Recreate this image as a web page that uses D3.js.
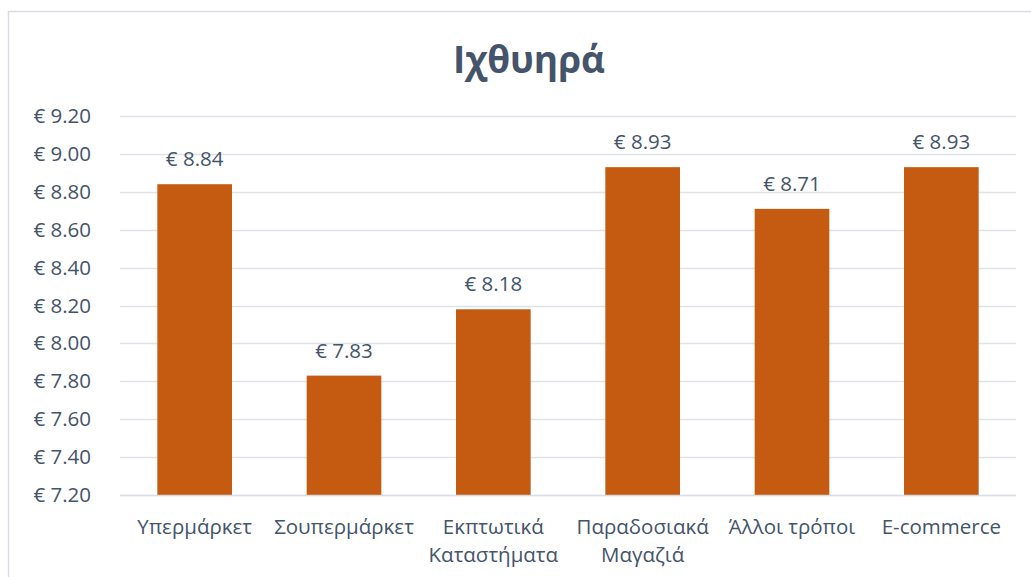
<!DOCTYPE html>
<html>
<head>
<meta charset="utf-8">
<script src="https://cdn.jsdelivr.net/npm/d3@7/dist/d3.min.js"></script>
<style>
  html, body { margin: 0; padding: 0; background: #ffffff; }
  svg { display: block; }
  text { font-family: "Open Sans", "Noto Sans", sans-serif; fill: #44546A; }
</style>
</head>
<body>
<script>
const title = "Ιχθυηρά";
const categories = ["Υπερμάρκετ", "Σουπερμάρκετ", "Εκπτωτικά\nΚαταστήματα", "Παραδοσιακά\nΜαγαζιά", "Άλλοι τρόποι", "E-commerce"];
const values = [8.84, 7.83, 8.18, 8.93, 8.71, 8.93];
const yTicks = [7.20, 7.40, 7.60, 7.80, 8.00, 8.20, 8.40, 8.60, 8.80, 9.00, 9.20];
const yDomain = [7.20, 9.20];

const W = 1031, H = 577;
const margin = { left: 120, right: 15, top: 116, bottom: 82 };
const fs = 20.5;

const svg = d3.select("body").append("svg").attr("width", W).attr("height", H);

// chart frame (partially cropped on right/bottom)
svg.append("rect")
  .attr("x", 8.5).attr("y", 11.5)
  .attr("width", W + 20).attr("height", H + 20)
  .attr("fill", "#ffffff")
  .attr("stroke", "#D9DDE3").attr("stroke-width", 1.5);

const x = d3.scaleBand().domain(categories)
  .range([margin.left, W - margin.right]).paddingInner(0.5).paddingOuter(0.25);
const y = d3.scaleLinear().domain(yDomain).range([H - margin.bottom, margin.top]);

// gridlines
svg.append("g").selectAll("line").data(yTicks).join("line")
  .attr("x1", margin.left).attr("x2", W - margin.right)
  .attr("y1", d => Math.round(y(d)) + 0.5).attr("y2", d => Math.round(y(d)) + 0.5)
  .attr("stroke", "#DFE3E8").attr("stroke-width", 1.5);

// y axis labels
const yAxis = d3.axisLeft(y).tickValues(yTicks).tickSize(0).tickPadding(0)
  .tickFormat(d => "€ " + d3.format(".2f")(d));
const gy = svg.append("g").attr("transform", `translate(91,0)`).call(yAxis);
gy.select(".domain").remove();
gy.selectAll("text").attr("font-size", fs).attr("fill", "#44546A")
  .style("font-family", '"Open Sans", "Noto Sans", sans-serif');

// bars
svg.append("g").selectAll("rect").data(values).join("rect")
  .attr("x", (d, i) => x(categories[i]))
  .attr("width", x.bandwidth())
  .attr("y", d => y(d))
  .attr("height", d => y(yDomain[0]) - y(d))
  .attr("fill", "#C55A11");

// baseline
svg.append("line")
  .attr("x1", margin.left).attr("x2", W - margin.right)
  .attr("y1", Math.round(y(yDomain[0])) + 0.5).attr("y2", Math.round(y(yDomain[0])) + 0.5)
  .attr("stroke", "#D9DDE3").attr("stroke-width", 1.5);

// value labels
svg.append("g").selectAll("text").data(values).join("text")
  .attr("x", (d, i) => x(categories[i]) + x.bandwidth() / 2)
  .attr("y", d => y(d) - 18)
  .attr("text-anchor", "middle")
  .attr("font-size", fs)
  .text(d => "€ " + d3.format(".2f")(d));

// x axis labels
const xl = svg.append("g").selectAll("text").data(categories).join("text")
  .attr("x", d => x(d) + x.bandwidth() / 2)
  .attr("y", 534)
  .attr("text-anchor", "middle")
  .attr("font-size", fs);
xl.each(function(d) {
  const t = d3.select(this);
  const cx = x(d) + x.bandwidth() / 2;
  d.split("\n").forEach((line, k) => {
    t.append("tspan").attr("x", cx).attr("dy", k === 0 ? 0 : 28).text(line);
  });
});

// title
svg.append("text")
  .attr("x", 529).attr("y", 73)
  .attr("text-anchor", "middle")
  .attr("font-size", 37).attr("font-weight", "bold")
  .text(title);
</script>
</body>
</html>
